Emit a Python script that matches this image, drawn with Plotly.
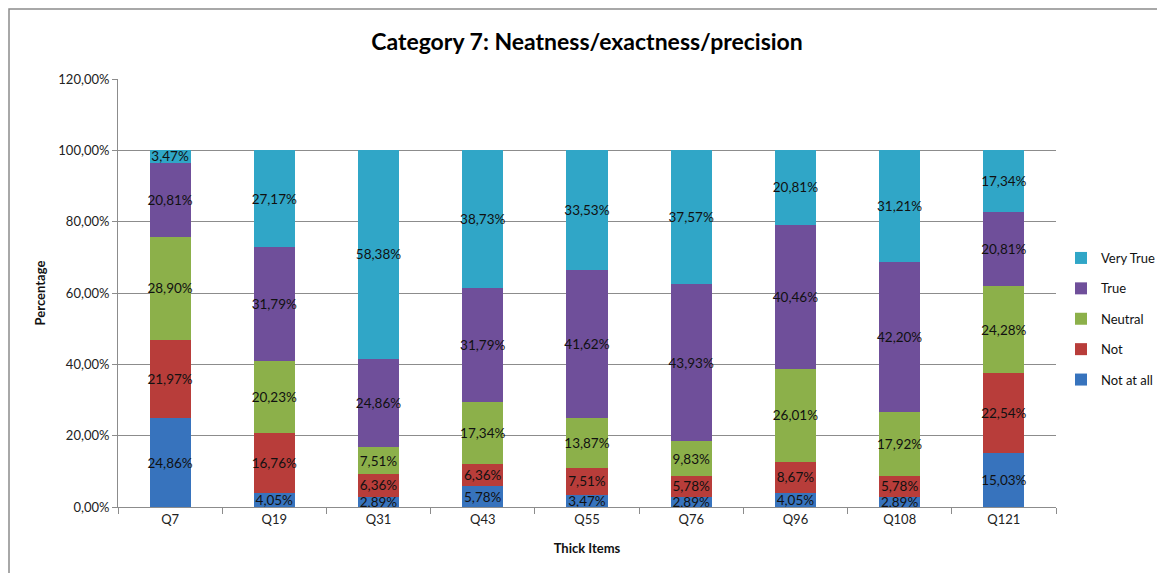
import plotly.graph_objects as go

categories = ["Q7", "Q19", "Q31", "Q43", "Q55", "Q76", "Q96", "Q108", "Q121"]
not_at_all = [24.86, 4.05, 2.89, 5.78, 3.47, 2.89, 4.05, 2.89, 15.03]
not_ = [21.97, 16.76, 6.36, 6.36, 7.51, 5.78, 8.67, 5.78, 22.54]
neutral = [28.90, 20.23, 7.51, 17.34, 13.87, 9.83, 26.01, 17.92, 24.28]
true_ = [20.81, 31.79, 24.86, 31.79, 41.62, 43.93, 40.46, 42.20, 20.81]
very_true = [3.47, 27.17, 58.38, 38.73, 33.53, 37.57, 20.81, 31.21, 17.34]

series_names = ["Not at all", "Not", "Neutral", "True", "Very True"]
series_values = [not_at_all, not_, neutral, true_, very_true]
series_colors = ["#3773bd", "#b83d3a", "#8cb04a", "#6f4f9a", "#30a6c7"]
legend_ranks = [5, 4, 3, 2, 1]

y_tickvals = [0, 20, 40, 60, 80, 100, 120]
y_ticktext = ["0,00%", "20,00%", "40,00%", "60,00%", "80,00%", "100,00%", "120,00%"]

FONT = "Lato, 'Open Sans', sans-serif"

def fmt(v):
    return f"{v:.2f}%".replace(".", ",")

fig = go.Figure()
for name, vals, col, rank in zip(series_names, series_values, series_colors, legend_ranks):
    fig.add_trace(go.Bar(
        x=categories, y=vals, name=name,
        marker=dict(color=col, line=dict(width=0)),
        text=[fmt(v) for v in vals],
        textposition="inside", insidetextanchor="middle", textangle=0,
        textfont=dict(family=FONT, size=13.5, color="#111111"),
        legendgroup=name, legendrank=rank,
        hoverinfo="x+y+name",
    ))

L, T, W, H = 110, 71, 938, 428
fig.update_layout(
    width=1165, height=573,
    barmode="stack", bargap=0.605,
    paper_bgcolor="white", plot_bgcolor="white",
    margin=dict(l=L, r=1165 - L - W, t=T, b=573 - T - H, autoexpand=False),
    uniformtext=dict(minsize=13.5, mode="show"),
    title=dict(text="<b>Category 7: Neatness/exactness/precision</b>",
               x=0.5, xref="paper", y=1 - 34 / 573, yanchor="middle",
               font=dict(family=FONT, size=23, color="#000000")),
    font=dict(family=FONT, size=13, color="#222222"),
    legend=dict(xref="container", yref="container", x=1053 / 1165, y=1 - 235 / 573,
                xanchor="left", yanchor="top",
                traceorder="grouped", tracegroupgap=10.5,
                font=dict(family=FONT, size=13, color="#111111"),
                itemwidth=30, bgcolor="rgba(0,0,0,0)"),
    xaxis=dict(
        title=dict(text="<b>Thick Items</b>", font=dict(family=FONT, size=13, color="#111111"), standoff=18),
        showline=True, linecolor="#8c8c8c", linewidth=1,
        ticks="outside", tickson="boundaries", ticklen=6, tickcolor="#8c8c8c",
        tickfont=dict(family=FONT, size=13, color="#222222"),
        showgrid=False,
    ),
    yaxis=dict(
        title=dict(text="<b>Percentage</b>", font=dict(family=FONT, size=13, color="#111111"), standoff=9),
        range=[0, 120], tickvals=y_tickvals, ticktext=y_ticktext,
        showline=True, linecolor="#8c8c8c", linewidth=1,
        ticks="outside", ticklen=5, tickcolor="#8c8c8c",
        showgrid=True, gridcolor="#8c8c8c", gridwidth=1,
        zeroline=False,
        tickfont=dict(family=FONT, size=13, color="#222222"),
    ),
    shapes=[dict(type="rect", xref="paper", yref="paper",
                 x0=(1 - L) / W, x1=1.3, y0=-0.4, y1=(T + H - 1) / H,
                 line=dict(color="#8c8c8c", width=1.5), fillcolor="rgba(0,0,0,0)", layer="below")],
)

fig.write_html("out.html")
